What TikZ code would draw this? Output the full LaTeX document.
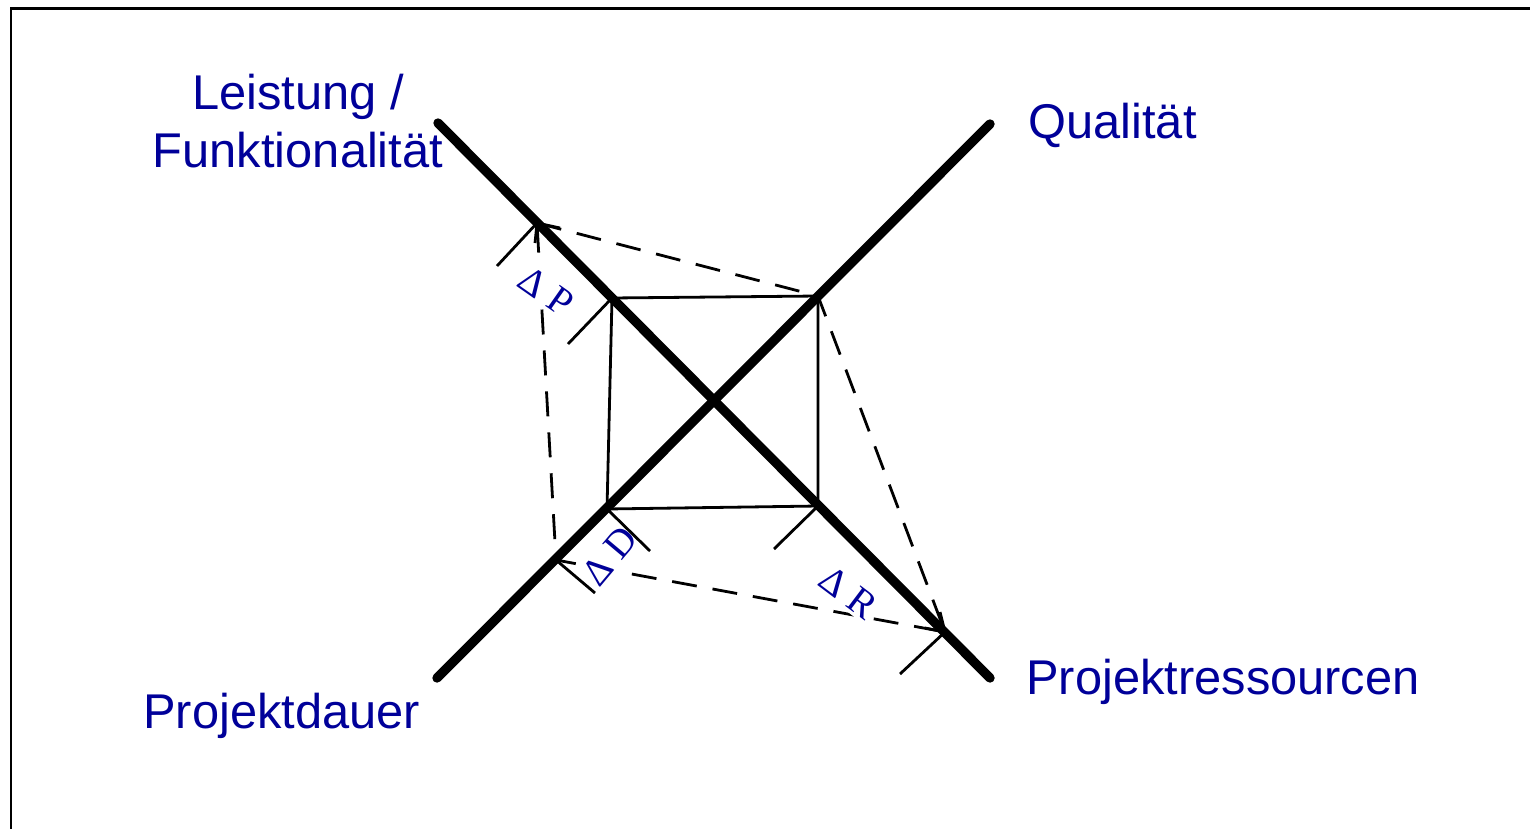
\documentclass[tikz,border=0pt]{standalone}
\usepackage{fontspec}
\setmainfont{Liberation Sans}
\newfontfamily\serifdelta{Liberation Serif}
\definecolor{lblue}{RGB}{0,0,153}
\begin{document}
\begin{tikzpicture}[x=0.5pt,y=-0.5pt,
  axisline/.style={line width=4.7pt, line cap=round},
  thinline/.style={line width=1.4pt},
  dashline/.style={line width=1.4pt, dash pattern=on 12.5pt off 8pt},
  lbl/.style={text=lblue, font=\fontsize{24.4}{29}\selectfont, inner sep=0pt},
  dlbl/.style={text=lblue, font=\serifdelta\fontsize{19.5}{22}\selectfont, fill=white, inner sep=1.5pt}]
\useasboundingbox (0,0) rectangle (1530,829);
\clip (0,0) rectangle (1530,829);
\draw[line width=1.4pt] (11,8.5) rectangle (1580,880);

% axis ends
\coordinate (ul) at (438,123);
\coordinate (lr) at (990,678);
\coordinate (ll) at (437,678);
\coordinate (ur) at (990,124);

% inner square
\coordinate (p1) at (612,298);
\coordinate (q1) at (818,296);
\coordinate (r1) at (818,506);
\coordinate (d1) at (607,509);

% outer polygon
\coordinate (A) at (537,223);
\coordinate (C) at (945,632);
\coordinate (D) at (556,560);

% tick ends
\coordinate (tA) at (497,266);
\coordinate (tP) at (568,344);
\coordinate (tD1) at (650,551);
\coordinate (tD) at (595,593);
\coordinate (tR1) at (774,549);
\coordinate (tC) at (900,674);

% arrow barbs
\coordinate (bA1) at (560,228);
\coordinate (bA2) at (535,243);
\coordinate (bC1) at (940,612);
\coordinate (bC2) at (925,628);

% dashed outer polygon
\draw[dashline] (A) -- (q1) -- (C) -- (D) -- cycle;

% inner square
\draw[thinline] (p1) -- (q1) -- (r1) -- (d1) -- cycle;

% delta labels (white boxes cover the dashed lines)
\node[dlbl, rotate=-35] (dP) at (546,291) {Δ P};
\node[dlbl, rotate=50] (dD) at (610,556) {Δ D};
\node[dlbl, rotate=-37] (dR) at (849,593) {Δ R};

% ticks
\draw[thinline] (A) -- (tA);
\draw[thinline] (p1) -- (tP);
\draw[thinline] (d1) -- (tD1);
\draw[thinline] (D) -- (tD);
\draw[thinline] (r1) -- (tR1);
\draw[thinline] (C) -- (tC);

% arrow barbs
\draw[thinline] (bA1) -- (A) -- (bA2);
\draw[thinline] (bC1) -- (C) -- (bC2);

% axes
\draw[axisline] (ul) -- (lr);
\draw[axisline] (ll) -- (ur);

% main labels
\node[lbl, anchor=base] (leist) at (298,110) {Leistung /};
\node[lbl, anchor=base] (funk) at (298,167) {Funktionalität};
\node[lbl, anchor=base west] (qual) at (1028,139) {Qualität};
\node[lbl, anchor=base west] (ress) at (1026,694) {Projektressourcen};
\node[lbl, anchor=base west] (dauer) at (143,728) {Projektdauer};
\end{tikzpicture}
\end{document}
